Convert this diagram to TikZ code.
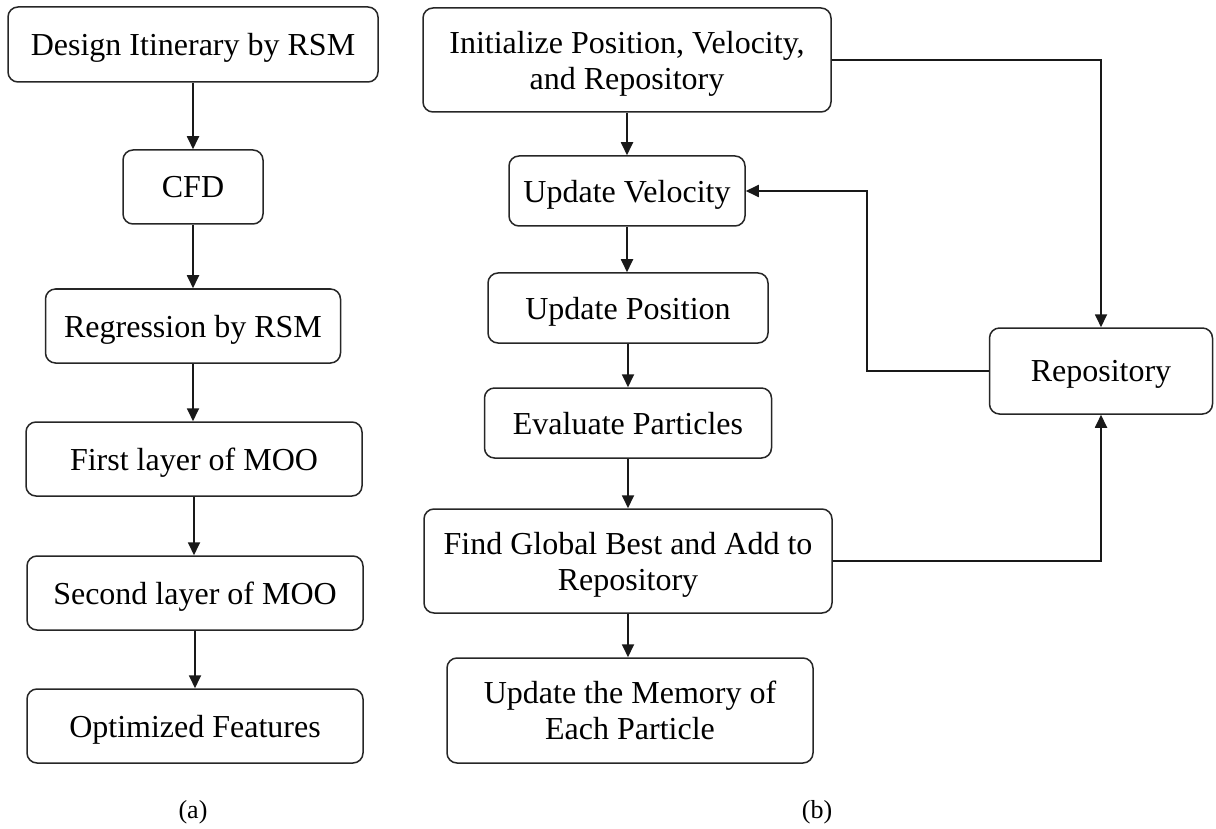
\documentclass[tikz,border=0pt]{standalone}
\usepackage{fontspec}
\setmainfont{Liberation Serif}
\usetikzlibrary{arrows.meta}
\begin{document}
\begin{tikzpicture}[x=1pt,y=-1pt,
  box/.style={draw=black!85, line width=1.5pt, rounded corners=10pt, align=center,
    inner sep=0pt, text depth=0pt, font=\fontsize{32}{36}\selectfont},
  conn/.style={draw=black!90, line width=1.8pt},
  arr/.style={conn, -{Triangle[width=12pt,length=13pt]}},
  sublabel/.style={font=\fontsize{26}{30}\selectfont}]
\useasboundingbox (0,0) rectangle (1216,829);
% left column
\node[box, minimum width=370pt, minimum height=75pt] (des) at (193,44.5) {Design Itinerary by RSM};
\node[box, minimum width=140pt, minimum height=74pt] (cfd) at (193,187) {CFD};
\node[box, minimum width=295pt, minimum height=74pt] (reg) at (193,326) {Regression by RSM};
\node[box, minimum width=336pt, minimum height=74pt] (fir) at (194,459) {First layer of MOO};
\node[box, minimum width=336pt, minimum height=74pt] (sec) at (195,593) {Second layer of MOO};
\node[box, minimum width=336pt, minimum height=74pt] (opt) at (195,726) {Optimized Features};
\node[sublabel] (la) at (193,812) {(a)};
\draw[arr] (des.south) -- (cfd.north);
\draw[arr] (cfd.south) -- (cfd.south |- reg.north);
\draw[arr] (reg.south) -- (reg.south |- fir.north);
\draw[arr] (fir.south) -- (fir.south |- sec.north);
\draw[arr] (sec.south) -- (opt.north);
% right column
\node[box, minimum width=408pt, minimum height=104pt] (ini) at (627,60) {Initialize Position, Velocity,\\and Repository};
\node[box, minimum width=236pt, minimum height=70pt] (uv) at (627,191) {Update Velocity};
\node[box, minimum width=280pt, minimum height=70pt] (up) at (628,308) {Update Position};
\node[box, minimum width=287pt, minimum height=70pt] (ev) at (628,423) {Evaluate Particles};
\node[box, minimum width=408pt, minimum height=104pt] (fgb) at (628,561) {Find Global Best and Add to\\Repository};
\node[box, minimum width=366pt, minimum height=105pt] (mem) at (630,710.5) {Update the Memory of\\Each Particle};
\node[box, minimum width=223pt, minimum height=86pt] (rep) at (1101,371) {Repository};
\node[sublabel] (lb) at (817,812) {(b)};
\draw[arr] (ini.south) -- (ini.south |- uv.north);
\draw[arr] (uv.south) -- (uv.south |- up.north);
\draw[arr] (up.south) -- (up.south |- ev.north);
\draw[arr] (ev.south) -- (ev.south |- fgb.north);
\draw[arr] (fgb.south) -- (fgb.south |- mem.north);
\draw[arr] (ini.east) -| (rep.north);
\draw[arr] (fgb.east) -| (rep.south);
\coordinate (k) at (867,371);
\draw[arr] (rep.west) -- (k) |- (uv.east);
\end{tikzpicture}
\end{document}
